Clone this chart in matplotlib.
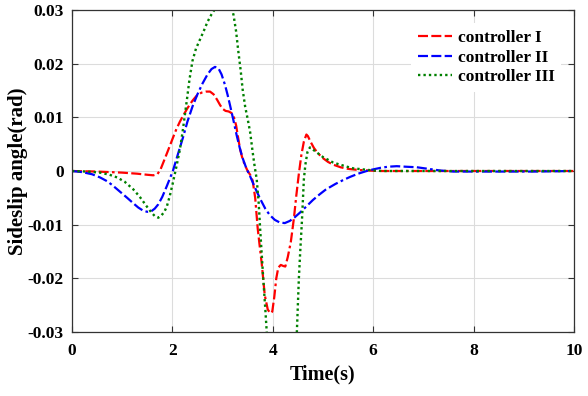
import matplotlib
matplotlib.use("Agg")
import matplotlib.pyplot as plt
from matplotlib.ticker import FixedLocator, FixedFormatter

# ---- data ----
t_c1 = [0, 0.5, 1.0, 1.3, 1.5, 1.62, 1.7, 1.76, 1.82, 1.9, 1.95, 2.02, 2.08, 2.15,
        2.22, 2.3, 2.4, 2.49, 2.58, 2.67, 2.75, 2.82, 2.89, 2.95, 3.0, 3.06, 3.12,
        3.18, 3.23, 3.27, 3.31, 3.35, 3.4, 3.45, 3.5, 3.55, 3.6, 3.65, 3.7, 3.74,
        3.78, 3.84, 3.9, 3.95, 3.99, 4.03, 4.07, 4.11, 4.16, 4.21, 4.25, 4.3, 4.36,
        4.42, 4.47, 4.52, 4.57, 4.62, 4.67, 4.7, 4.75, 4.82, 4.9, 5.0, 5.1, 5.2,
        5.35, 5.5, 5.7, 5.9, 6.1, 10.0]
v_c1 = [0, -0.0001, -0.0003, -0.0005, -0.0007, -0.0008, -0.0006, 0.0002, 0.0016,
        0.0035, 0.0047, 0.0064, 0.0078, 0.0092, 0.0104, 0.0117, 0.0131, 0.0141,
        0.0146, 0.0148, 0.0148, 0.0143, 0.0133, 0.0123, 0.0116, 0.0112, 0.0111,
        0.0108, 0.0099, 0.0085, 0.0062, 0.0040, 0.0022, 0.0010, 0.0, -0.0007,
        -0.0018, -0.0050, -0.0107, -0.0140, -0.0172, -0.0231, -0.0258, -0.0265,
        -0.0262, -0.0235, -0.0200, -0.0180, -0.0175, -0.0177, -0.0178, -0.0160,
        -0.0132, -0.0089, -0.0045, -0.0005, 0.0030, 0.0055, 0.0068, 0.0065, 0.0055,
        0.0043, 0.0033, 0.0024, 0.0017, 0.0012, 0.0007, 0.0004, 0.0002, 0.0001,
        0.0, 0.0]

t_c2 = [0, 0.2, 0.4, 0.56, 0.7, 0.8, 0.9, 1.0, 1.1, 1.22, 1.32, 1.42, 1.5, 1.58,
        1.65, 1.72, 1.8, 1.89, 1.95, 2.01, 2.1, 2.21, 2.3, 2.4, 2.5, 2.6, 2.7, 2.78,
        2.85, 2.92, 2.98, 3.05, 3.1, 3.15, 3.22, 3.28, 3.34, 3.4, 3.47, 3.55, 3.65,
        3.75, 3.85, 3.94, 4.04, 4.14, 4.24, 4.34, 4.44, 4.56, 4.68, 4.8, 4.94, 5.05,
        5.14, 5.25, 5.4, 5.54, 5.7, 5.87, 6.0, 6.15, 6.3, 6.47, 6.65, 6.87, 7.1,
        7.33, 7.6, 8.0, 8.5, 9.2, 10.0]
v_c2 = [0, -0.0002, -0.0006, -0.0012, -0.0019, -0.0026, -0.0034, -0.0042, -0.0050,
        -0.0060, -0.0068, -0.0074, -0.0076, -0.0075, -0.0070, -0.0062, -0.0048,
        -0.0028, -0.0014, 0.0, 0.0028, 0.0062, 0.0092, 0.0120, 0.0143, 0.0163,
        0.0180, 0.0190, 0.0194, 0.0191, 0.0180, 0.0160, 0.0142, 0.0122, 0.0093,
        0.0067, 0.0044, 0.0024, 0.0006, -0.0010, -0.0032, -0.0052, -0.0070, -0.0082,
        -0.0091, -0.0096, -0.0097, -0.0093, -0.0086, -0.0076, -0.0065, -0.0054,
        -0.0043, -0.0035, -0.0030, -0.0024, -0.0017, -0.0011, -0.0005, 0.0, 0.0003,
        0.0006, 0.0008, 0.0009, 0.0008, 0.0007, 0.0004, 0.0001, -0.0001, -0.0001,
        -0.0001, -0.0001, 0.0]

t_c3 = [0, 0.3, 0.56, 0.75, 0.9, 1.05, 1.22, 1.35, 1.49, 1.58, 1.65, 1.72, 1.78,
        1.84, 1.89, 1.95, 2.01, 2.08, 2.15, 2.21, 2.25, 2.29, 2.34, 2.4, 2.47, 2.55,
        2.63, 2.7, 2.78, 2.85, 2.95, 3.05, 3.12, 3.18, 3.22, 3.27, 3.31, 3.36, 3.4,
        3.45, 3.5, 3.55, 3.6, 3.64, 3.68, 3.72, 3.75, 3.78, 3.81, 3.85, 3.88, 3.95,
        4.05, 4.2, 4.35, 4.44, 4.48, 4.52, 4.55, 4.58, 4.62, 4.65, 4.69, 4.74, 4.8,
        4.9, 5.0, 5.08, 5.2, 5.3, 5.48, 5.6, 5.8, 6.0, 6.2, 8.0, 10.0]
v_c3 = [0, -0.0001, -0.0003, -0.0007, -0.0012, -0.0020, -0.0034, -0.0048, -0.0066,
        -0.0077, -0.0084, -0.0087, -0.0083, -0.0076, -0.0066, -0.0046, -0.0022,
        0.0008, 0.0040, 0.0077, 0.0105, 0.0133, 0.0170, 0.0205, 0.0228, 0.0245,
        0.0262, 0.0278, 0.0292, 0.0302, 0.0315, 0.0322, 0.0318, 0.0305, 0.0290,
        0.0260, 0.0226, 0.0188, 0.0152, 0.0120, 0.0097, 0.0072, 0.0035, 0.0008,
        -0.0015, -0.0060, -0.0110, -0.0155, -0.0200, -0.0255, -0.0300, -0.0380,
        -0.0430, -0.0450, -0.0410, -0.0340, -0.0300, -0.0200, -0.0145, -0.0095,
        -0.0015, 0.0012, 0.0035, 0.0044, 0.0040, 0.0033, 0.0026, 0.0022, 0.0016,
        0.0013, 0.0008, 0.0005, 0.0003, 0.0001, 0.0, 0.0, 0.0]

x_ticks = [0, 2, 4, 6, 8, 10]
x_tick_labels = ["0", "2", "4", "6", "8", "10"]
y_ticks = [-0.03, -0.02, -0.01, 0, 0.01, 0.02, 0.03]
y_tick_labels = ["-0.03", "-0.02", "-0.01", "0", "0.01", "0.02", "0.03"]
series_names = ["controller I", "controller II", "controller III"]

plt.rcParams['font.family'] = ['Liberation Serif', 'DejaVu Serif']
plt.rcParams['font.weight'] = 'bold'

fig = plt.figure(figsize=(5.88, 3.96), dpi=100)
ax = fig.add_axes([0.1224, 0.1616, 0.8537, 0.8131])

dashdot = (0, (4.5, 1.5, 4.5, 1.5, 4.5, 1.5, 1.2, 1.5))
ax.plot(t_c1, v_c1, color=(1, 0, 0), lw=1.6, linestyle=dashdot, label=series_names[0])
ax.plot(t_c2, v_c2, color=(0, 0, 1), lw=1.6, linestyle=dashdot, label=series_names[1])
ax.plot(t_c3, v_c3, color=(0, 0.5, 0), lw=1.7, linestyle=(0, (1, 1.3)), label=series_names[2])

ax.set_xlim(0, 10)
ax.set_ylim(-0.03, 0.03)
ax.xaxis.set_major_locator(FixedLocator(x_ticks))
ax.xaxis.set_major_formatter(FixedFormatter(x_tick_labels))
ax.yaxis.set_major_locator(FixedLocator(y_ticks))
ax.yaxis.set_major_formatter(FixedFormatter(y_tick_labels))
ax.tick_params(direction='in', top=True, right=True, length=4, width=0.8,
               labelsize=12.5, color='#333333')
ax.tick_params(axis='x', pad=8)
ax.tick_params(axis='y', pad=6)
for lab in ax.get_xticklabels() + ax.get_yticklabels():
    lab.set_fontweight('bold')
ax.grid(True, color='#dcdcdc', lw=0.8)
ax.set_axisbelow(True)
for s in ax.spines.values():
    s.set_color('#333333')
    s.set_linewidth(0.9)

ax.set_xlabel("Time(s)", fontsize=14.5, fontweight='bold', labelpad=4)
ax.set_ylabel("Sideslip angle(rad)", fontsize=15, fontweight='bold', labelpad=0)

leg = ax.legend(loc='upper right', bbox_to_anchor=(0.975, 0.96), frameon=True,
                fontsize=12.5, handlelength=2.0, handletextpad=0.3, labelspacing=0.2,
                borderaxespad=0.0, borderpad=0.4)
leg.get_frame().set_edgecolor('none')
leg.get_frame().set_facecolor('white')
leg.get_frame().set_alpha(1)
for txt in leg.get_texts():
    txt.set_fontweight('bold')

fig.savefig("out.png", dpi=100)
